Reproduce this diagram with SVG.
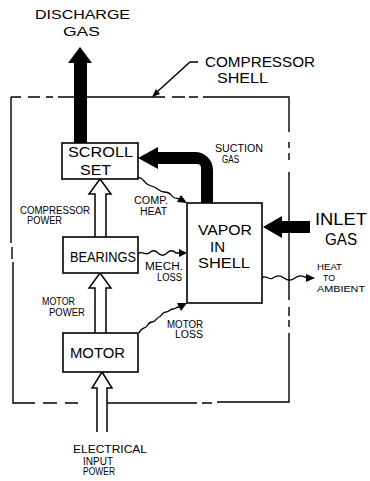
<svg xmlns="http://www.w3.org/2000/svg" width="370" height="481" viewBox="0 0 370 481">
<style>
text{font-family:"Liberation Sans","DejaVu Sans",sans-serif;fill:#000;text-anchor:start}
.l{font-size:15px}.s{font-size:10px}.xs{font-size:9px}
.box{fill:#fff;stroke:#000;stroke-width:1.6}
.shell{stroke:#000;stroke-width:1.4;fill:none}
.hol{fill:#fff;stroke:#000;stroke-width:1.5;stroke-linejoin:miter}
.wave{fill:none;stroke:#000;stroke-width:1.3}
.blk{fill:#000;stroke:none}
</style>
<rect width="370" height="481" fill="#fff"/>
<g id="shell">
<path class="shell" d="M11,97H21M28,97H40M46,97H53M58,97H165M172,97H185M189,97H198M203,97H289V132M289,142V148M289,153V160M289,172V300M289,307V316M289,320V327M289,333V402H217M212,403H202M197,403H185V403H97M78,403H65M57,403H43M35,403H13V262M12,259V247M11,243V97"/>
<path class="shell" d="M198,62H190L157,92"/>
<polygon class="blk" points="152,97 160,94 156,89"/>
<text class="l" x="205" y="67" textLength="110" lengthAdjust="spacingAndGlyphs">COMPRESSOR</text>
<text class="l" x="217" y="83" textLength="51" lengthAdjust="spacingAndGlyphs">SHELL</text>
</g>
<g id="discharge">
<polygon class="blk" points="74,143 74,63 68,63 80,47 92,63 87,63 87,143"/>
<text x="35" y="19" textLength="95" lengthAdjust="spacingAndGlyphs" style="font-size:13px">DISCHARGE</text>
<text x="63" y="36" textLength="37" lengthAdjust="spacingAndGlyphs" style="font-size:13px">GAS</text>
</g>
<g id="connectors">
<path class="blk" d="M158,152H195A18,18 0 0 1 213,170V203H201V168Q201,164 197,164H158V169L138,158L158,147Z"/>
<polygon class="blk" points="310,221 282,221 282,216 263,227 282,238 282,233 310,233"/>
<path class="hol" d="M95,237V194H89L100,179L111,194H106V237"/>
<path class="hol" d="M95,333V288H89L100,273L111,288H106V333"/>
<path class="hol" d="M97,432V388H92L102,372L112,388H107V432"/>
<path class="wave" d="M137,178C142,176 144,182 147,184S153,186 156,188S161,192 164,192S170,193 172,196S176,198 180,199"/>
<polygon class="blk" points="187,203 177,202 181,195"/>
<path class="wave" d="M138,254C142,250 145,256 149,253S155,250 158,253S164,256 167,253S173,250 176,253L180,253"/>
<polygon class="blk" points="187,253 179,249 179,257"/>
<path class="wave" d="M139,333C141,328 144,328 146,327S148,322 152,322S156,318 159,317S162,312 166,312S170,309 173,309S176,307 179,307"/>
<polygon class="blk" points="187,303 181,311 177,303"/>
<path class="wave" d="M262,278C266,274 269,281 273,278S280,275 284,278S291,281 295,278S302,275 307,278"/>
<polygon class="blk" points="315,278 306,274 306,282"/>
</g>
<g id="scroll">
<rect class="box" x="62" y="143" width="76" height="36"/>
<text class="l" x="68" y="157" textLength="65" lengthAdjust="spacingAndGlyphs">SCROLL</text>
<text class="l" x="80" y="175" textLength="31" lengthAdjust="spacingAndGlyphs">SET</text>
</g>
<g id="bearings">
<rect class="box" x="63" y="237" width="75" height="36"/>
<text class="l" x="70" y="262" textLength="66" lengthAdjust="spacingAndGlyphs">BEARINGS</text>
</g>
<g id="motor">
<rect class="box" x="63" y="333" width="75" height="39"/>
<text class="l" x="70" y="358" textLength="55" lengthAdjust="spacingAndGlyphs">MOTOR</text>
</g>
<g id="vapor">
<rect class="box" x="187" y="203" width="75" height="100"/>
<text class="l" x="198" y="235" textLength="54" lengthAdjust="spacingAndGlyphs">VAPOR</text>
<text class="l" x="210" y="252" textLength="15" lengthAdjust="spacingAndGlyphs">IN</text>
<text class="l" x="198" y="268" textLength="52" lengthAdjust="spacingAndGlyphs">SHELL</text>
</g>
<g id="labels">
<text class="s" x="215" y="152" textLength="48" lengthAdjust="spacingAndGlyphs">SUCTION</text>
<text class="s" x="222" y="163" textLength="17" lengthAdjust="spacingAndGlyphs">GAS</text>
<text class="l" x="315" y="225" textLength="52" lengthAdjust="spacingAndGlyphs" style="font-size:16px">INLET</text>
<text class="l" x="325" y="245" textLength="32" lengthAdjust="spacingAndGlyphs" style="font-size:16px">GAS</text>
<text class="xs" x="317" y="270" textLength="25" lengthAdjust="spacingAndGlyphs">HEAT</text>
<text class="xs" x="323" y="281" textLength="12" lengthAdjust="spacingAndGlyphs">TO</text>
<text class="xs" x="317" y="292" textLength="48" lengthAdjust="spacingAndGlyphs">AMBIENT</text>
<text class="s" x="20" y="214" textLength="70" lengthAdjust="spacingAndGlyphs">COMPRESSOR</text>
<text class="s" x="27" y="224" textLength="35" lengthAdjust="spacingAndGlyphs">POWER</text>
<text class="s" x="134" y="204" textLength="34" lengthAdjust="spacingAndGlyphs">COMP.</text>
<text class="s" x="140" y="215" textLength="27" lengthAdjust="spacingAndGlyphs">HEAT</text>
<text class="s" x="145" y="270" textLength="38" lengthAdjust="spacingAndGlyphs">MECH.</text>
<text class="s" x="157" y="281" textLength="25" lengthAdjust="spacingAndGlyphs">LOSS</text>
<text class="s" x="42" y="305" textLength="33" lengthAdjust="spacingAndGlyphs">MOTOR</text>
<text class="s" x="49" y="316" textLength="36" lengthAdjust="spacingAndGlyphs">POWER</text>
<text class="s" x="167" y="328" textLength="36" lengthAdjust="spacingAndGlyphs">MOTOR</text>
<text class="s" x="175" y="338" textLength="28" lengthAdjust="spacingAndGlyphs">LOSS</text>
<text class="s" x="73" y="453" textLength="74" lengthAdjust="spacingAndGlyphs">ELECTRICAL</text>
<text class="s" x="83" y="465" textLength="30" lengthAdjust="spacingAndGlyphs">INPUT</text>
<text class="s" x="83" y="475" textLength="32" lengthAdjust="spacingAndGlyphs">POWER</text>
</g>
</svg>
